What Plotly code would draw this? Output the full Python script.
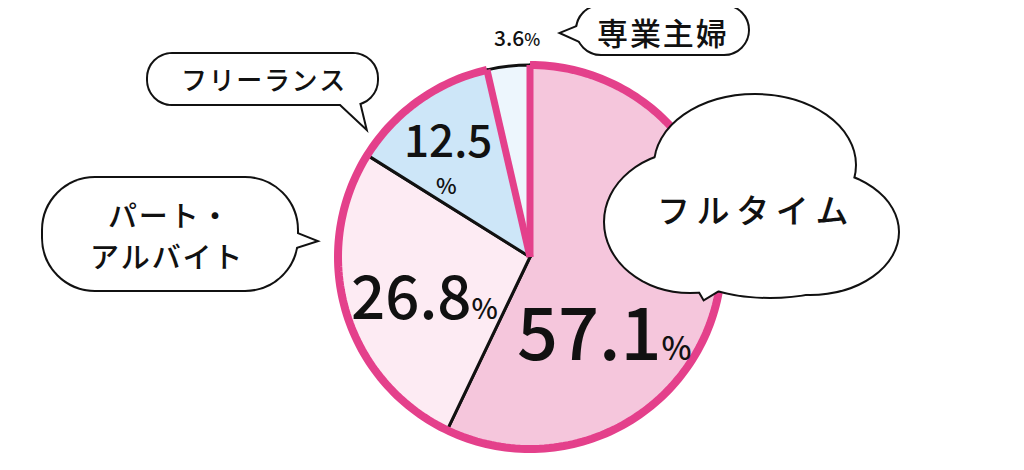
import numpy as np
import plotly.graph_objects as go

labels = ["フルタイム", "パート・アルバイト", "フリーランス", "専業主婦"]
values = [57.1, 26.8, 12.5, 3.6]
colors = ["#f5c6dc", "#fdebf3", "#cde6f8", "#edf6fd"]
bubble_labels = ["フ\u2009ル\u2009タ\u2009イ\u2009ム", "パ\u200aー\u200aト\u200a・", "ア\u200aル\u200aバ\u200aイ\u200aト",
                 "フ\u200aリ\u200aー\u200aラ\u200aン\u200aス", "専\u200a業\u200a主\u200a婦"]

W, H = 1024, 470
OFF = 8  # page body margin
cx, cy, R = 530, 257, 192
PINK = "#e4408b"
FONT = "Noto Sans CJK JP"


def px(x):
    return (x - OFF) / W


def py(y):
    return 1 - (y - OFF) / H


def pt(x, y):
    return f"{px(x):.5f},{py(y):.5f}"


def pill(x0, y0, x1, y1, r):
    k = 0.5523 * r
    return (
        f"M {pt(x0 + r, y0)} L {pt(x1 - r, y0)} "
        f"C {pt(x1 - r + k, y0)} {pt(x1, y0 + r - k)} {pt(x1, y0 + r)} "
        f"L {pt(x1, y1 - r)} "
        f"C {pt(x1, y1 - r + k)} {pt(x1 - r + k, y1)} {pt(x1 - r, y1)} "
        f"L {pt(x0 + r, y1)} "
        f"C {pt(x0 + r - k, y1)} {pt(x0, y1 - r + k)} {pt(x0, y1 - r)} "
        f"L {pt(x0, y0 + r)} "
        f"C {pt(x0, y0 + r - k)} {pt(x0 + r - k, y0)} {pt(x0 + r, y0)} Z"
    )


def poly(points):
    return "M " + " L ".join(pt(x, y) for x, y in points) + " Z"


# slice boundaries as fractions of the circle, clockwise from 12 o'clock
frac = np.cumsum([0] + values) / sum(values)


def polar(f, r):
    a = 2 * np.pi * f
    return cx + r * np.sin(a), cy - r * np.cos(a)


fig = go.Figure(
    go.Pie(
        labels=labels,
        values=values,
        sort=False,
        direction="clockwise",
        rotation=0,
        marker=dict(colors=colors, line=dict(color="#111111", width=3)),
        textinfo="none",
        showlegend=False,
        domain=dict(x=[px(cx - R), px(cx + R)], y=[py(cy + R), py(cy - R)]),
    )
)

shapes = []
# pink outer rim (all but the last slice) and pink radial edges
arc = [polar(f, R) for f in np.linspace(frac[0], frac[3], 240)]
shapes.append(dict(type="path", path="M " + " L ".join(pt(x, y) for x, y in arc),
                   line=dict(color=PINK, width=8), layer="above"))
for f in [frac[0], frac[3]]:
    ex, ey = polar(f, R)
    shapes.append(dict(type="path", path=f"M {pt(cx, cy)} L {pt(ex, ey)}",
                       line=dict(color=PINK, width=7), layer="above"))

# speech bubbles: outline pass then white fill pass so overlaps merge
bubbles = [
    [pill(148, 54, 377, 104, 24), poly([(334, 98), (365, 127), (358, 98)])],
    [pill(43, 178, 297, 290, 52), poly([(290, 231), (315, 241), (290, 249)])],
    [pill(577, 6, 748, 54, 24), poly([(584, 24), (562, 33), (584, 43)])],
]
for parts in bubbles:
    for p in parts:
        shapes.append(dict(type="path", path=p, fillcolor="white",
                           line=dict(color="#111111", width=4), layer="above"))
    for p in parts:
        shapes.append(dict(type="path", path=p, fillcolor="white",
                           line=dict(width=0), layer="above"))

# cloud
lobes = [(655, 95, 855, 235), (605, 152, 775, 292), (722, 170, 898, 294), (660, 183, 880, 297)]
tail = poly([(690, 275), (704, 299), (732, 282)])
for x0, y0, x1, y1 in lobes:
    shapes.append(dict(type="circle", x0=px(x0), x1=px(x1), y0=py(y1), y1=py(y0),
                       fillcolor="white", line=dict(color="#111111", width=4), layer="above"))
shapes.append(dict(type="path", path=tail, fillcolor="white",
                   line=dict(color="#111111", width=4), layer="above"))
for x0, y0, x1, y1 in lobes:
    shapes.append(dict(type="circle", x0=px(x0), x1=px(x1), y0=py(y1), y1=py(y0),
                       fillcolor="white", line=dict(width=0), layer="above"))
shapes.append(dict(type="path", path=tail, fillcolor="white", line=dict(width=0), layer="above"))

for s in shapes:
    s.update(xref="paper", yref="paper")


def pct(v, big, small):
    return f"<span style='font-size:{big}px'>{v:.1f}</span><span style='font-size:{small}px'>%</span>"


annotations = [
    dict(x=px(604), y=py(328), text=pct(values[0], 72, 32)),
    dict(x=px(424), y=py(292), text=pct(values[1], 60, 28)),
    dict(x=px(448), y=py(138), text=f"<span style='font-size:44px'>{values[2]:.1f}</span>"),
    dict(x=px(446), y=py(184), text="<span style='font-size:22px'>%</span>"),
    dict(x=px(517), y=py(37), text=pct(values[3], 21, 17)),
    dict(x=px(752), y=py(209), text=bubble_labels[0], font=dict(size=33)),
    dict(x=px(168), y=py(214), text=bubble_labels[1], font=dict(size=29)),
    dict(x=px(166), y=py(255), text=bubble_labels[2], font=dict(size=29)),
    dict(x=px(263), y=py(79), text=bubble_labels[3], font=dict(size=26)),
    dict(x=px(662), y=py(31), text=bubble_labels[4], font=dict(size=31)),
]
for a in annotations:
    a.update(xref="paper", yref="paper", showarrow=False, xanchor="center", yanchor="middle")
    a.setdefault("font", dict(size=20))
    a["font"].update(family=FONT, color="#111111", weight=500)

fig.update_layout(
    width=W,
    height=H,
    margin=dict(l=0, r=0, t=0, b=0),
    paper_bgcolor="white",
    plot_bgcolor="white",
    shapes=shapes,
    annotations=annotations,
)

fig.write_html("out.html")
